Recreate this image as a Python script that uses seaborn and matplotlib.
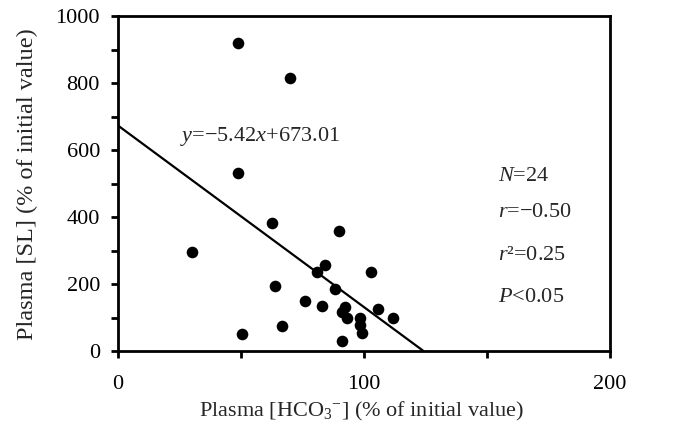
import matplotlib
matplotlib.use("Agg")
import matplotlib.pyplot as plt
import seaborn as sns
import numpy as np
import pandas as pd

# data
hco3 = [48.9, 69.9, 48.9, 62.7, 90.0, 30.0, 84.1, 81.0, 102.8, 63.8, 88.2, 76.0,
        83.1, 92.3, 91.2, 93.2, 105.8, 111.7, 98.2, 98.4, 99.2, 66.8, 50.3, 91.2]
sl = [918, 814, 532, 381, 357, 296, 257, 235, 237, 195, 185, 149,
      135, 132, 117, 99, 125, 98, 99, 78, 55, 75, 51, 31]
slope = -5.42
intercept = 673.01
x_ticks = [0, 100, 200]
y_ticks = [0, 200, 400, 600, 800, 1000]
stats_lines = [r"$\mathit{N}$=24", r"$\mathit{r}$=−0.50", r"$\mathit{r}$²=0.25", r"$\mathit{P}$<0.05"]

sns.set_style("ticks")
plt.rcParams['font.family'] = ['Liberation Serif', 'DejaVu Serif']
plt.rcParams['mathtext.fontset'] = 'custom'
plt.rcParams['mathtext.rm'] = 'Liberation Serif'
plt.rcParams['mathtext.it'] = 'Liberation Serif:italic'
plt.rcParams['mathtext.default'] = 'regular'

fig = plt.figure(figsize=(6.76, 4.33), dpi=100)
ax = fig.add_axes([118/676, 1 - 351/433, (610-118)/676, (351-16)/433])

df = pd.DataFrame({"x": hco3, "y": sl})
sns.scatterplot(data=df, x="x", y="y", ax=ax, color="black", s=70, edgecolor="black", linewidth=0, zorder=3)

x_end = -intercept / slope
line_df = pd.DataFrame({"x": [0, x_end], "y": [intercept, intercept + slope * x_end]})
sns.lineplot(data=line_df, x="x", y="y", ax=ax, color="black", linewidth=1.6)

ax.set_xlim(0, 200)
ax.set_ylim(0, 1000)
ax.set_xticks(x_ticks)
ax.set_xticks([50, 150], minor=True)
ax.set_yticks(y_ticks)
ax.set_yticks([100, 300, 500, 700, 900], minor=True)
ax.tick_params(axis='both', which='both', direction='out', length=5, width=2, labelsize=16, colors='black')
ax.tick_params(axis='x', pad=12)
ax.tick_params(axis='y', pad=8)
for sp in ax.spines.values():
    sp.set_visible(True)
    sp.set_linewidth(2)
    sp.set_color('black')

ax.set_xlabel(r"Plasma [HCO$_3$$^{-}$] (% of initial value)", fontsize=16)
ax.set_ylabel("Plasma [SL] (% of initial value)", fontsize=17.5)
ax.xaxis.set_label_coords(0.494, -0.147)
ax.yaxis.set_label_coords(-0.163, 0.497)

ax.text(25, 639, r"$\mathit{y}$=−5.42$\mathit{x}$+673.01", fontsize=16, va='center', ha='left')
ys = [522, 412, 286, 161]
for t, yy in zip(stats_lines, ys):
    ax.text(154.5, yy, t, fontsize=16, va='center', ha='left')

fig.savefig("out.png", dpi=100)
